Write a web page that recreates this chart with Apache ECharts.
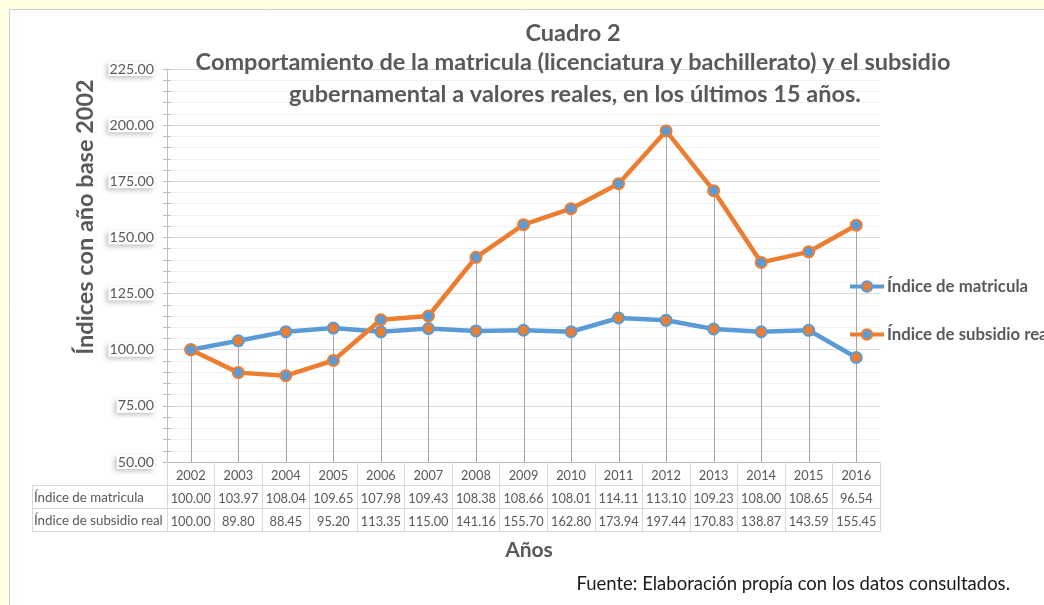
<!DOCTYPE html>
<html><head><meta charset="utf-8">
<script src="https://cdn.jsdelivr.net/npm/echarts@6/dist/echarts.min.js"></script>
<style>html,body{margin:0;padding:0;background:#fefee3}#c{width:1044px;height:605px}</style>
</head><body><div id="c"></div>
<script>
const years = ['2002','2003','2004','2005','2006','2007','2008','2009','2010','2011','2012','2013','2014','2015','2016'];
const matricula = [100.00,103.97,108.04,109.65,107.98,109.43,108.38,108.66,108.01,114.11,113.10,109.23,108.00,108.65,96.54];
const subsidio = [100.00,89.80,88.45,95.20,113.35,115.00,141.16,155.70,162.80,173.94,197.44,170.83,138.87,143.59,155.45];
const nameMat = 'Índice de matricula';
const nameSub = 'Índice de subsidio real';
const yMin = 50, yMax = 225, yStep = 25;

const BLUE = '#5B9BD5', ORANGE = '#ED7D31', TXT = '#595959', TBL = '#d9d9d9';
const FONT = 'Lato';
const GL = 167, GR = 880, GT = 69, GB = 462, ROW = 23;

const chart = echarts.init(document.getElementById('c'), null, {renderer: 'canvas'});
const dropData = years.map((y, i) => [i, Math.max(matricula[i], subsidio[i])]);
const fmt = v => v.toFixed(2);

function tableAxis(data, idx, showLabel) {
  return {
    type: 'category', data: data, position: 'bottom', offset: ROW * idx,
    boundaryGap: true, gridIndex: 0,
    axisLine: {show: true, lineStyle: {color: TBL, width: 1}},
    axisTick: {show: showLabel, length: ROW, inside: false, lineStyle: {color: TBL}},
    axisLabel: {show: showLabel, margin: 6.5, color: TXT, fontFamily: FONT, fontSize: 12.8, lineHeight: 14, interval: 0},
    splitLine: {show: false}
  };
}
const titleStyle = {fontFamily: FONT, fontWeight: 'bold', fontSize: 23.5, color: TXT};

const option = {
  backgroundColor: '#fefee3',
  animation: false,
  title: [
    {text: 'Cuadro 2', left: 568, top: 16, textAlign: 'center', textStyle: titleStyle},
    {text: 'Comportamiento de la matricula (licenciatura y bachillerato) y el subsidio', left: 568, top: 45, textAlign: 'center', textStyle: titleStyle},
    {text: 'gubernamental a valores reales, en los últimos 15 años.', left: 570, top: 77, textAlign: 'center', textStyle: titleStyle},
    {text: 'Años', left: 524, top: 535, textAlign: 'center', textStyle: {fontFamily: FONT, fontWeight: 'bold', fontSize: 21, color: TXT}},
    {text: 'Fuente: Elaboración propía con los datos consultados.', left: 1005, top: 570, textAlign: 'right', textStyle: {fontFamily: FONT, fontWeight: 'normal', fontSize: 18.5, color: '#1a1a1a'}}
  ],
  graphic: [
    {type: 'rect', z: -100, shape: {x: 9.5, y: 9.5, width: 1100, height: 700}, style: {fill: '#ffffff', stroke: '#d0d0d0', lineWidth: 1}},
    {type: 'rect', z: 1, shape: {x: 32.5, y: GB + ROW + 0.5, width: GL - 32, height: ROW * 2}, style: {fill: 'none', stroke: TBL, lineWidth: 1}},
    {type: 'line', z: 1, shape: {x1: 32.5, y1: GB + ROW * 2 + 0.5, x2: GL, y2: GB + ROW * 2 + 0.5}, style: {stroke: TBL, lineWidth: 1}},
    {type: 'text', z: 2, style: {x: 34, y: GB + ROW * 1.5 + 1, text: nameMat, fill: TXT, font: '13.3px ' + FONT, verticalAlign: 'middle'}},
    {type: 'text', z: 2, style: {x: 34, y: GB + ROW * 2.5 + 1, text: nameSub, fill: TXT, font: '13.3px ' + FONT, verticalAlign: 'middle'}},
    {type: 'text', z: 2, x: 85, y: 217, rotation: Math.PI / 2,
      style: {x: 0, y: 0, text: 'Índices con año base 2002', fill: TXT, font: 'bold 23.5px ' + FONT, align: 'center', verticalAlign: 'middle'}}
  ],
  legend: {
    orient: 'vertical', left: 843, top: 273, itemWidth: 34, itemHeight: 13, itemGap: 31,
    data: [nameMat, nameSub],
    lineStyle: {width: 4},
    textStyle: {fontFamily: FONT, fontWeight: 'bold', fontSize: 16.8, color: TXT, padding: [0,0,0,-2]}
  },
  grid: {left: GL, right: 1044 - GR, top: GT, bottom: 605 - GB, containLabel: false},
  xAxis: [
    Object.assign(tableAxis(years, 0, true), {axisLine: {show: true, lineStyle: {color: '#bfbfbf', width: 1}}}),
    tableAxis(matricula.map(fmt), 1, true),
    tableAxis(subsidio.map(fmt), 2, true),
    tableAxis(years, 3, false)
  ],
  yAxis: [
    {
      type: 'value', min: yMin, max: yMax, interval: yStep, position: 'left',
      axisLine: {show: true, lineStyle: {color: '#bfbfbf'}},
      axisTick: {show: true, length: 4, lineStyle: {color: '#bfbfbf'}},
      minorTick: {show: true, splitNumber: 5, length: 4, lineStyle: {color: '#bfbfbf'}},
      axisLabel: {formatter: v => v.toFixed(2), margin: 12, color: TXT, fontFamily: FONT, fontSize: 14.2,
        backgroundColor: '#ffffff', padding: [0, 1], shadowColor: 'rgba(0,0,0,0.25)', shadowBlur: 5, shadowOffsetX: -2, shadowOffsetY: 2},
      splitLine: {show: true, lineStyle: {color: '#d9d9d9'}},
      minorSplitLine: {show: true, lineStyle: {color: '#f0f0f0'}}
    },
    {
      type: 'value', min: yMin, max: yMax, interval: yStep, position: 'left', offset: 0,
      axisLine: {show: false},
      axisTick: {show: true, inside: true, length: 4, lineStyle: {color: '#bfbfbf'}},
      minorTick: {show: true, splitNumber: 5, length: 4, lineStyle: {color: '#bfbfbf'}},
      axisLabel: {show: false}, splitLine: {show: false}
    }
  ],
  series: [
    {
      type: 'custom', xAxisIndex: 0, yAxisIndex: 0, z: 1, silent: true,
      data: dropData,
      renderItem: function (params, api) {
        const top = api.coord([api.value(0), api.value(1)]);
        const bot = api.coord([api.value(0), yMin]);
        return {type: 'line', shape: {x1: Math.round(top[0]) + 0.5, y1: top[1], x2: Math.round(bot[0]) + 0.5, y2: bot[1]},
          style: {stroke: '#a6a6a6', lineWidth: 1}};
      }
    },
    {
      name: nameMat, type: 'line', data: matricula, z: 3,
      symbol: 'circle', symbolSize: 11,
      lineStyle: {color: BLUE, width: 4.5},
      itemStyle: {color: ORANGE, borderColor: BLUE, borderWidth: 2}
    },
    {
      name: nameSub, type: 'line', data: subsidio, z: 4,
      symbol: 'circle', symbolSize: 11,
      lineStyle: {color: ORANGE, width: 4.5},
      itemStyle: {color: BLUE, borderColor: ORANGE, borderWidth: 2}
    }
  ]
};
chart.setOption(option);
</script></body></html>
